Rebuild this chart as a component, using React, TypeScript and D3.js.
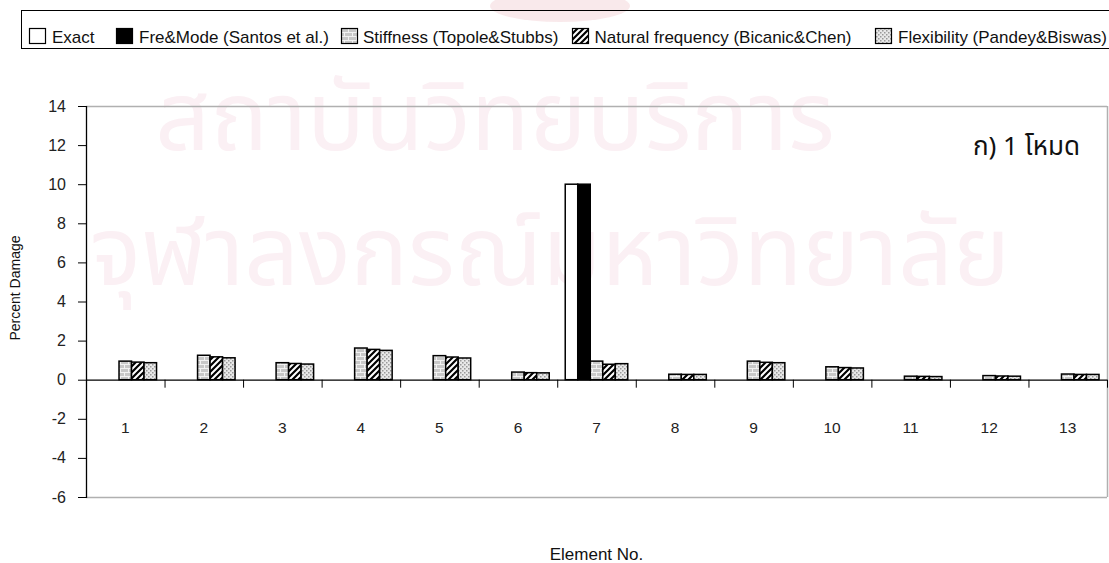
import React from "react";
import * as d3 from "d3";

const categories = ["1", "2", "3", "4", "5", "6", "7", "8", "9", "10", "11", "12", "13"];
const exact = [0, 0, 0, 0, 0, 0, 10, 0, 0, 0, 0, 0, 0];
const freMode = [0, 0, 0, 0, 0, 0, 10, 0, 0, 0, 0, 0, 0];
const stiffness = [0.95, 1.25, 0.87, 1.62, 1.23, 0.39, 0.95, 0.28, 0.95, 0.66, 0.18, 0.21, 0.29];
const natFreq = [0.9, 1.17, 0.83, 1.55, 1.16, 0.36, 0.79, 0.27, 0.89, 0.62, 0.17, 0.19, 0.27];
const flexibility = [0.87, 1.12, 0.8, 1.5, 1.11, 0.35, 0.82, 0.27, 0.87, 0.6, 0.16, 0.18, 0.27];
const yTicks = [-6, -4, -2, 0, 2, 4, 6, 8, 10, 12, 14];

const seriesNames = [
  "Exact",
  "Fre&Mode (Santos et al.)",
  "Stiffness (Topole&Stubbs)",
  "Natural frequency (Bicanic&Chen)",
  "Flexibility (Pandey&Biswas)",
];
const seriesValues = [exact, freMode, stiffness, natFreq, flexibility];
const fills = ["#ffffff", "#000000", "url(#brick)", "url(#diag)", "url(#dots)"];

const W = 1109;
const H = 563;
const left = 86;
const right = 1107;
const top = 106;
const bottom = 497;

export default function App() {
  const x = d3.scaleBand<string>().domain(categories).range([left, right]).padding(0);
  const step = x.bandwidth();
  const inner = d3
    .scaleBand<number>()
    .domain(d3.range(seriesNames.length))
    .range([8, step - 8])
    .padding(0);
  const y = d3.scaleLinear().domain([-6, 14]).range([bottom, top]);
  const font = "'Liberation Sans', Arial, sans-serif";
  const thai = "'Noto Sans Thai', 'Noto Sans', 'DejaVu Sans', sans-serif";

  const legendSq = [29, 116, 341, 572, 875];
  const legendTx = [52, 139, 363, 594.5, 898];

  return (
    <svg
      width={W}
      height={H}
      style={{ position: "absolute", left: 0, top: 0, background: "#fff" }}
      fontFamily={font}
    >
      <defs>
        <pattern id="brick" width="8" height="8" patternUnits="userSpaceOnUse">
          <rect width="8" height="8" fill="#c8c8c8" />
          <line x1="0" y1="0.5" x2="8" y2="0.5" stroke="#f2f2f2" strokeWidth="1" />
          <line x1="0" y1="4.5" x2="8" y2="4.5" stroke="#f2f2f2" strokeWidth="1" />
          <line x1="0.5" y1="0" x2="0.5" y2="4" stroke="#f2f2f2" strokeWidth="1" />
          <line x1="4.5" y1="4" x2="4.5" y2="8" stroke="#f2f2f2" strokeWidth="1" />
        </pattern>
        <pattern id="diag" width="6" height="6" patternUnits="userSpaceOnUse">
          <rect width="6" height="6" fill="#fff" />
          <path d="M-1,7 L7,-1 M-4,4 L4,-4 M2,10 L10,2" stroke="#000" strokeWidth="2.2" />
        </pattern>
        <pattern id="dots" width="4" height="4" patternUnits="userSpaceOnUse">
          <rect width="4" height="4" fill="#e8e8e8" />
          <rect x="0" y="0" width="1.5" height="1.5" fill="#999" />
          <rect x="2" y="2" width="1.5" height="1.5" fill="#999" />
        </pattern>
      </defs>

      {/* watermark */}
      <g fill="#fbf0f4" fontFamily={thai}>
        <ellipse cx="560" cy="6" rx="70" ry="16" fill="#f6dfe2" opacity="0.7" />
        <text x="495" y="150" fontSize="96" textAnchor="middle">สถาบันวิทยบริการ</text>
        <text x="550" y="285" fontSize="96" textAnchor="middle">จุฬาลงกรณ์มหาวิทยาลัย</text>
      </g>

      {/* legend */}
      <rect x={21.5} y={10.5} width={1200} height={38} fill="none" stroke="#000" strokeWidth={1} />
      {seriesNames.map((name, i) => (
        <g key={name}>
          <rect
            x={legendSq[i] + 0.5}
            y={28.5}
            width={16}
            height={15}
            fill={fills[i]}
            stroke="#000"
            strokeWidth={1.2}
          />
          <text x={legendTx[i]} y={42.5} fontSize={17} fill="#111">
            {name}
          </text>
        </g>
      ))}

      {/* plot frame */}
      <line x1={left} y1={top + 0.5} x2={right} y2={top + 0.5} stroke="#b0b0b0" strokeWidth={1.5} />
      <line x1={right + 0.5} y1={top} x2={right + 0.5} y2={bottom} stroke="#b0b0b0" strokeWidth={1.5} />
      <line x1={left} y1={bottom + 0.5} x2={right} y2={bottom + 0.5} stroke="#b0b0b0" strokeWidth={1.5} />

      {/* bars */}
      {categories.map((c, ci) => (
        <g key={c}>
          {seriesValues.map((vals, si) => {
            const v = vals[ci];
            if (!v) return null;
            const x0 = (x(c) as number) + (inner(si) as number);
            const y0 = y(Math.max(0, v));
            const y1 = y(Math.min(0, v));
            return (
              <rect
                key={si}
                x={x0}
                y={y0}
                width={inner.bandwidth()}
                height={y1 - y0}
                fill={fills[si]}
                stroke="#000"
                strokeWidth={1.5}
              />
            );
          })}
        </g>
      ))}

      {/* y axis */}
      <line x1={left + 0.5} y1={top} x2={left + 0.5} y2={bottom + 1} stroke="#000" strokeWidth={1.3} />
      {yTicks.map((t) => (
        <g key={t}>
          <line x1={left - 8} y1={y(t) + 0.5} x2={left} y2={y(t) + 0.5} stroke="#000" strokeWidth={1} />
          <text x={66} y={y(t) + 5.5} fontSize={16} textAnchor="end" fill="#222">
            {t}
          </text>
        </g>
      ))}

      {/* x axis at zero */}
      <line x1={left} y1={y(0) + 0.5} x2={right} y2={y(0) + 0.5} stroke="#000" strokeWidth={1.3} />
      {categories.map((c) => (
        <line
          key={"t" + c}
          x1={(x(c) as number) + step + 0.5}
          y1={y(0)}
          x2={(x(c) as number) + step + 0.5}
          y2={y(0) + 8}
          stroke="#000"
          strokeWidth={1}
        />
      ))}
      {categories.map((c) => (
        <text
          key={"l" + c}
          x={(x(c) as number) + step / 2}
          y={433}
          fontSize={15.5}
          textAnchor="middle"
          fill="#222"
        >
          {c}
        </text>
      ))}

      {/* annotation */}
      <text x={1080} y={155} fontSize={26} textAnchor="end" fill="#111" fontFamily={thai}>
        ก) 1 โหมด
      </text>

      {/* axis titles */}
      <text
        transform="translate(19.5,288) rotate(-90)"
        fontSize={14}
        textAnchor="middle"
        fill="#111"
      >
        Percent Damage
      </text>
      <text x={596.5} y={559.5} fontSize={17} textAnchor="middle" fill="#111">
        Element No.
      </text>
    </svg>
  );
}
